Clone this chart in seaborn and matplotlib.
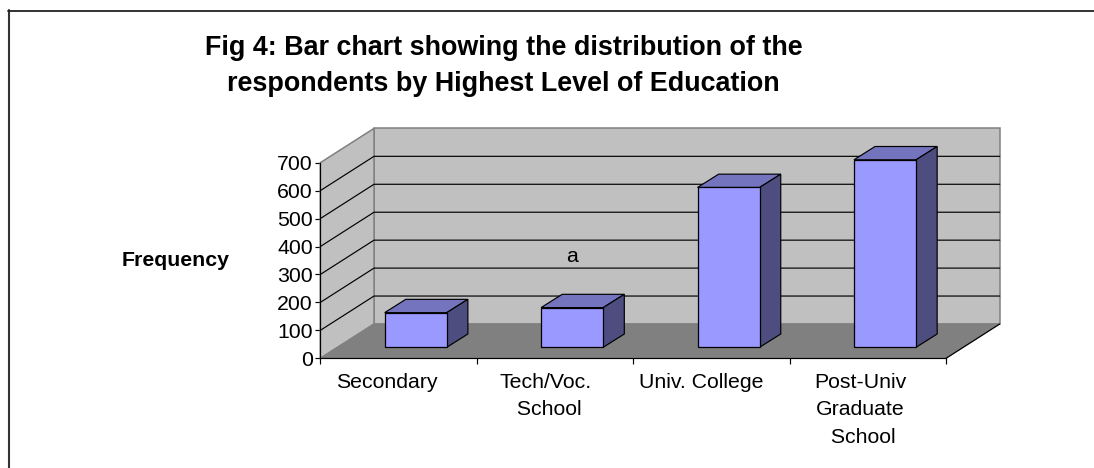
import matplotlib
matplotlib.use("Agg")
import matplotlib.pyplot as plt
import seaborn as sns
from matplotlib.lines import Line2D
from matplotlib.patches import Polygon
from matplotlib.transforms import Affine2D

categories = ["Secondary", "Tech/Voc. School", "Univ. College", "Post-Univ Graduate School"]
frequency = [124, 142, 572, 671]
tick_labels = ["Secondary", "Tech/Voc.\n School", "Univ. College", "Post-Univ\nGraduate\n School"]
y_ticks = [0, 100, 200, 300, 400, 500, 600, 700]
title_text = "Fig 4: Bar chart showing the distribution of the\nrespondents by Highest Level of Education"

W, H = 1094, 468
FS = 15.3
sns.set_theme(style="white")
plt.rcParams["font.family"] = ["Liberation Sans", "DejaVu Sans"]
fig = plt.figure(figsize=(W / 100, H / 100), dpi=100, facecolor="white")
ax = fig.add_axes([320.3 / W, (H - 358.3) / H, 625.7 / W, 195.6 / H])
ax.patch.set_visible(False)

# seaborn draws the front faces
sns.barplot(x=categories, y=frequency, order=categories, color="#9999FF", width=0.397,
            saturation=1, edgecolor="black", linewidth=0.9, ax=ax, zorder=4)
ax.set_xlim(-0.5, 3.5)
ax.set_ylim(0, 700)

# depth of the 3D box, in data units
DX, DY = 0.3434, 122.8
BX, BY = 0.135, 47.6
OX, OY = 0.11, 39.4
LW = 0.85

def poly(pts, face, edge, z, lw=LW):
    ax.add_patch(Polygon(pts, closed=True, facecolor=face, edgecolor=edge, lw=lw,
                         zorder=z, clip_on=False, joinstyle="miter"))

x0, x1 = -0.5, 3.5
top = y_ticks[-1]
poly([(x0 + DX, DY), (x1 + DX, DY), (x1 + DX, top + DY), (x0 + DX, top + DY)], "#C0C0C0", "#808080", 1, 1.1)
poly([(x0, 0), (x0, top), (x0 + DX, top + DY), (x0 + DX, DY)], "#C0C0C0", "#808080", 1, 1.1)
poly([(x0, 0), (x1, 0), (x1 + DX, DY), (x0 + DX, DY)], "#808080", "#808080", 1.2)
ax.plot([x1, x1 + DX], [0, DY], color="black", lw=LW, zorder=1.3, clip_on=False)

for v in y_ticks[1:-1]:
    ax.plot([x0, x0 + DX, x1 + DX], [v, v + DY, v + DY], color="black", lw=LW,
            zorder=1.5, clip_on=False, solid_joinstyle="miter")

for bar in ax.patches:
    if bar.get_zorder() != 4:
        continue
    bar.set_clip_on(False)
    bar.set_transform(Affine2D().translate(OX, OY) + ax.transData)
    l = bar.get_x() + OX
    r = l + bar.get_width()
    t = bar.get_height() + OY
    b = OY
    poly([(l, t), (r, t), (r + BX, t + BY), (l + BX, t + BY)], "#7474BE", "black", 3)
    poly([(r, b), (r + BX, b + BY), (r + BX, t + BY), (r, t)], "#4D4D7F", "black", 3)

# axes, ticks, labels
sns.despine(ax=ax, top=True, right=True)
for side in ("left", "bottom"):
    ax.spines[side].set_color("black")
    ax.spines[side].set_linewidth(LW)
    ax.spines[side].set_zorder(2)
ax.set_yticks(y_ticks)
ax.set_yticklabels([str(v) for v in y_ticks], fontsize=FS, color="black")
ax.set_xticks([-0.5, 0.5, 1.5, 2.5, 3.5])
ax.set_xticklabels([])
ax.set_xticks([-0.0735, 0.943, 1.934, 2.954], minor=True)
ax.set_xticklabels(tick_labels, minor=True, fontsize=FS, color="black", linespacing=1.57, ha="center")
ax.tick_params(axis="y", length=5.5 * 0.72, width=LW, color="black", pad=1.5, left=True)
ax.tick_params(axis="x", which="major", length=5.5 * 0.72, width=LW, color="black", bottom=True)
ax.tick_params(axis="x", which="minor", length=0, pad=10.5)
ax.set_xlabel("")
ax.set_ylabel("")

fig.text(176 / W, 1 - 260 / H, "Frequency", fontsize=FS, fontweight="bold", ha="center", va="center", color="black")
fig.text(572 / W, 1 - 256 / H, "a", fontsize=FS, ha="center", va="center", color="black")
fig.text(503.5 / W, 1 - 66 / H, title_text, fontsize=19.4, fontweight="bold", ha="center", va="center",
         color="black", linespacing=1.47)

# outer frame (only top and left are inside the crop)
fig.add_artist(Line2D([8.5 / W, 8.5 / W], [0, 1 - 10 / H], color="#333333", lw=1.5))
fig.add_artist(Line2D([8 / W, 1], [1 - 10.5 / H, 1 - 10.5 / H], color="#222222", lw=1.3))

fig.savefig("out.png", dpi=100, facecolor="white")
